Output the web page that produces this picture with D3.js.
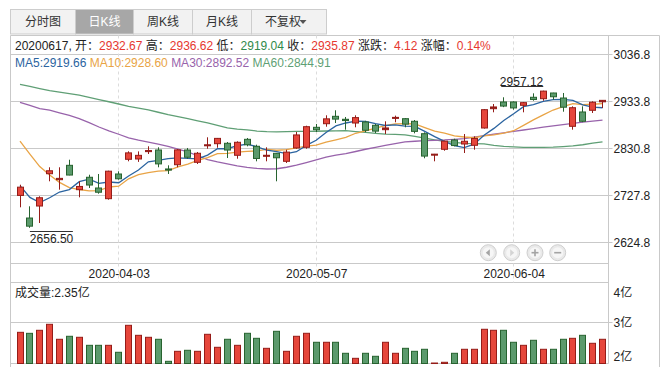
<!DOCTYPE html>
<html><head><meta charset="utf-8">
<script src="https://cdn.jsdelivr.net/npm/d3@7"></script>
<style>
html,body{margin:0;padding:0;background:#fff;}
svg{display:block;}
text{font-family:"Liberation Sans","Noto Sans CJK SC",Arial,sans-serif;font-size:12px;}
</style></head><body>
<svg id="chart" width="667" height="377"></svg>
<script>
// ---------------- DATA ----------------
const tabs = ["分时图", "日K线", "周K线", "月K线", "不复权"];
const dates = ["2020-03-20","2020-03-23","2020-03-24","2020-03-25","2020-03-26","2020-03-27","2020-03-30","2020-03-31","2020-04-01","2020-04-02",
"2020-04-03","2020-04-07","2020-04-08","2020-04-09","2020-04-10","2020-04-13","2020-04-14","2020-04-15","2020-04-16","2020-04-17",
"2020-04-20","2020-04-21","2020-04-22","2020-04-23","2020-04-24","2020-04-27","2020-04-28","2020-04-29","2020-04-30","2020-05-06",
"2020-05-07","2020-05-08","2020-05-11","2020-05-12","2020-05-13","2020-05-14","2020-05-15","2020-05-18","2020-05-19","2020-05-20",
"2020-05-21","2020-05-22","2020-05-25","2020-05-26","2020-05-27","2020-05-28","2020-05-29","2020-06-01","2020-06-02","2020-06-03",
"2020-06-04","2020-06-05","2020-06-08","2020-06-09","2020-06-10","2020-06-11","2020-06-12","2020-06-15","2020-06-16","2020-06-17"];
const opens = [2727.5,2678.0,2704.3,2775.1,2762.0,2793.5,2740.1,2767.3,2743.8,2720.4,
2774.5,2806.7,2807.4,2823.5,2827.1,2785.5,2794.8,2827.1,2800.1,2836.5,
2840.9,2841.8,2815.5,2850.5,2835.2,2813.3,2819.8,2802.3,2831.5,2833.0,
2876.8,2884.7,2900.9,2894.4,2886.2,2888.4,2881.2,2871.6,2897.2,2895.7,
2890.0,2862.8,2816.1,2828.6,2849.0,2840.2,2837.4,2875.3,2917.6,2932.3,
2932.3,2925.0,2942.6,2939.5,2952.0,2941.0,2879.0,2910.4,2914.1,2932.67];
const highs = [2751.0,2703.7,2725.6,2789.2,2789.2,2805.8,2758.5,2772.9,2774.5,2781.7,
2780.4,2824.2,2824.0,2835.2,2833.0,2793.5,2829.3,2831.5,2822.7,2854.9,
2853.4,2844.6,2846.1,2853.4,2838.7,2833.0,2820.5,2827.7,2866.5,2880.3,
2884.1,2903.1,2914.1,2899.4,2903.1,2891.0,2884.1,2890.0,2902.4,2897.2,
2892.8,2865.8,2818.5,2847.5,2851.8,2862.1,2857.1,2916.9,2927.9,2942.6,
2933.8,2932.3,2951.3,2957.12,2952.5,2952.0,2922.8,2922.8,2933.8,2936.62];
const lows = [2701.5,2656.50,2667.1,2758.5,2740.1,2771.6,2723.4,2743.8,2731.3,2718.2,
2762.0,2802.3,2801.0,2818.3,2789.2,2774.5,2789.2,2808.0,2796.4,2829.9,
2832.0,2809.5,2808.0,2835.2,2802.3,2802.3,2758.5,2798.6,2829.9,2829.9,
2866.5,2878.1,2886.2,2871.6,2876.8,2866.0,2864.3,2862.1,2887.8,2876.8,
2863.6,2808.9,2802.3,2825.5,2835.2,2820.5,2827.7,2874.0,2909.7,2921.0,
2915.4,2909.7,2935.1,2935.1,2937.3,2911.0,2871.6,2888.0,2908.2,2919.04];
const closes = [2745.62,2660.17,2722.44,2781.59,2764.91,2772.20,2747.21,2750.30,2734.52,2780.64,
2763.99,2820.76,2815.37,2825.90,2796.63,2783.05,2827.28,2811.17,2819.94,2838.49,
2852.55,2827.01,2843.98,2838.50,2808.53,2815.49,2810.02,2822.44,2860.08,2878.14,
2871.52,2895.34,2894.80,2891.56,2898.05,2870.34,2868.46,2875.42,2898.58,2883.74,
2867.92,2813.77,2817.97,2846.55,2836.80,2846.22,2852.35,2915.43,2921.40,2923.37,
2919.25,2930.80,2937.77,2956.11,2943.75,2920.90,2919.74,2890.03,2931.75,2935.87];
// volume, 亿
const volumes = [2.765,2.740,2.815,2.963,2.593,2.667,2.642,2.444,2.444,2.444,
2.272,2.938,2.691,2.642,2.593,2.049,2.296,2.321,2.296,2.716,
2.395,2.593,2.444,2.741,2.617,2.370,2.790,2.296,2.667,2.741,
2.519,2.519,2.519,2.247,2.123,2.247,2.173,2.519,2.247,2.370,
2.296,2.346,2.007,2.025,2.247,2.346,2.346,2.840,2.815,2.815,
2.519,2.444,2.568,2.346,2.346,2.593,2.617,2.691,2.494,2.593];
const ma5 = [2749.08,2723.26,2711.82,2722.39,2734.95,2740.26,2757.67,2763.24,2753.83,2756.97,
2755.33,2770.04,2783.06,2801.33,2804.53,2808.34,2809.65,2808.81,2807.61,2815.99,
2829.89,2829.83,2836.39,2840.11,2834.11,2826.70,2823.30,2819.00,2823.31,2837.23,
2848.44,2865.50,2879.98,2886.27,2890.25,2890.02,2884.64,2880.77,2882.17,2879.31,
2878.82,2867.89,2856.40,2845.99,2836.60,2832.26,2839.98,2859.47,2874.44,2891.75,
2906.36,2922.05,2926.52,2933.46,2937.54,2937.87,2935.65,2926.11,2921.23,2919.66];
const ma10 = [2846.49,2818.18,2790.75,2772.05,2756.19,2744.67,2740.47,2737.53,2738.11,2745.96,
2747.80,2763.86,2773.15,2777.58,2780.75,2781.84,2789.84,2795.93,2804.47,2810.26,
2819.11,2819.74,2822.60,2823.86,2825.05,2828.29,2826.57,2827.70,2831.71,2835.67,
2837.57,2844.40,2849.49,2854.79,2863.74,2869.23,2875.07,2880.37,2884.22,2884.78,
2884.42,2876.26,2868.58,2864.08,2857.96,2855.54,2853.93,2857.93,2860.22,2864.18,
2869.31,2881.01,2892.99,2903.95,2914.65,2922.11,2928.85,2926.31,2927.35,2928.60];
const ma30 = [2931.6,2924.7,2917.8,2914.3,2908.5,2902.7,2896.0,2887.0,2877.5,2868.8,
2861.6,2853.9,2848.6,2844.4,2839.8,2835.1,2829.0,2822.8,2814.5,2806.0,
2801.0,2796.7,2792.5,2788.8,2786.6,2785.4,2786.0,2789.3,2793.7,2799.6,
2805.5,2811.4,2816.0,2819.0,2823.8,2828.7,2832.9,2837.0,2841.0,2844.7,
2846.2,2847.6,2848.3,2849.1,2850.4,2851.9,2855.3,2858.6,2861.7,2864.8,
2867.8,2870.9,2874.1,2877.2,2880.0,2882.7,2885.4,2888.0,2890.3,2892.52];
const ma60 = [2971.1,2966.4,2961.8,2957.2,2954.0,2950.7,2947.1,2942.3,2937.6,2932.8,
2927.9,2922.7,2919.0,2915.2,2909.8,2904.4,2900.0,2895.8,2891.1,2886.4,
2881.0,2875.6,2872.8,2871.3,2868.6,2867.2,2866.8,2867.4,2868.1,2868.1,
2868.2,2868.7,2869.1,2869.4,2867.5,2865.6,2863.7,2862.0,2861.3,2860.2,
2856.7,2853.1,2849.5,2845.9,2843.9,2841.8,2841.0,2840.3,2837.2,2835.0,
2833.9,2833.0,2833.0,2833.0,2833.4,2834.5,2836.0,2838.6,2842.0,2844.91];
const priceTicks = [3036.8, 2933.8, 2830.8, 2727.8, 2624.8];
const dateTicks = ["2020-04-03", "2020-05-07", "2020-06-04"];
const volTicks = [4, 3, 2];
const volumeTitle = "成交量:2.35亿";
const maNames = ["MA5", "MA10", "MA30", "MA60"];
const maSeries = [ma5, ma10, ma30, ma60];

// ---------------- STYLE / LAYOUT ----------------
const COL = {red:"#e6463b", redDark:"#951c18", green:"#5b9a6c", greenDark:"#27632f",
  grid:"#c9c9c9", text:"#222", infoRed:"#e6382f", infoGreen:"#2f8a4a"};
const maColors = ["#2b64a0", "#e9a446", "#9863ab", "#5f9f75"];
const L = 10.5, R = 608.5, OR = 659.5, TOP = 35.5;
const PRICE_BOTTOM = 263.5, DATE_BOTTOM = 282.5, VOL_BOTTOM = 363.5, FRAME_BOTTOM = 367;

const svg = d3.select("#chart");
const x = d3.scalePoint().domain(dates).range([20, 602.5]);
const y = d3.scaleLinear().domain([2624.8, 3036.8]).range([242.3, 54.3]);
const yv = d3.scaleLinear().domain([2, 4]).range([363.3, 282.3]);
const BW = 7;
const snap = v => Math.floor(v) + 0.5;

// ---------- tabs ----------
const tabEdges = [10.5, 75.5, 133.5, 192.5, 251.5, 326.5];
const tabG = svg.append("g");
tabs.forEach((t, i) => {
  const x0 = tabEdges[i], x1 = tabEdges[i + 1];
  const sel = i === 1;
  tabG.append("rect").attr("x", x0).attr("y", 9.5).attr("width", x1 - x0).attr("height", 24.5)
    .attr("fill", sel ? "#a7a7a7" : "#f2f2f2").attr("stroke", "#cdcdcd");
  if (i === tabs.length - 1) {
    tabG.append("text").attr("x", (x0 + x1) / 2 - 6).attr("y", 22).attr("dy", "0.35em")
      .attr("text-anchor", "middle").attr("fill", "#333").text(t);
    tabG.append("path").attr("d", `M${x1 - 27},20 l7,0 l-3.5,4 z`).attr("fill", "#555");
  } else {
    tabG.append("text").attr("x", (x0 + x1) / 2).attr("y", 22).attr("dy", "0.35em")
      .attr("text-anchor", "middle").attr("fill", sel ? "#fff" : "#333").text(t);
  }
});

// ---------- frame & grid ----------
const g = svg.append("g");
const hline = (yy, x0, x1) => g.append("line").attr("x1", x0).attr("x2", x1).attr("y1", yy).attr("y2", yy)
  .attr("stroke", COL.grid).attr("stroke-width", 1);
const vline = (xx, y0, y1) => g.append("line").attr("x1", xx).attr("x2", xx).attr("y1", y0).attr("y2", y1)
  .attr("stroke", COL.grid).attr("stroke-width", 1);
hline(TOP, L, OR);
vline(L, TOP, FRAME_BOTTOM);
vline(OR, TOP, FRAME_BOTTOM);
vline(R, TOP, VOL_BOTTOM);
priceTicks.forEach(t => hline(snap(y(t)), L, R + 4));
hline(PRICE_BOTTOM, L, R);
hline(DATE_BOTTOM, L, R);
hline(snap(yv(3)), L, R + 4);
hline(VOL_BOTTOM, L, R);

// dashed date lines
g.selectAll("line.dash").data(dateTicks).join("line").attr("class", "dash")
  .attr("x1", d => snap(x(d))).attr("x2", d => snap(x(d)))
  .attr("y1", TOP).attr("y2", DATE_BOTTOM)
  .attr("stroke", "#dcdcdc").attr("stroke-dasharray", "3,3");

// ---------- axes ----------
const yAxis = d3.axisRight(y).tickValues(priceTicks).tickSize(0).tickPadding(5).tickFormat(d3.format(".1f"));
const ya = svg.append("g").attr("transform", `translate(${R},0)`).call(yAxis);
ya.select(".domain").remove();
ya.selectAll("text").attr("fill", COL.text).style("font-size", "12px")
  .style("font-family", '"Liberation Sans","Noto Sans CJK SC",sans-serif');

const xAxis = d3.axisBottom(x).tickValues(dateTicks).tickSize(0).tickPadding(5.5);
const xa = svg.append("g").attr("transform", `translate(0,${PRICE_BOTTOM})`).call(xAxis);
xa.select(".domain").remove();
xa.selectAll("text").attr("fill", COL.text).style("font-size", "12px")
  .style("font-family", '"Liberation Sans","Noto Sans CJK SC",sans-serif');

const vAxis = d3.axisRight(yv).tickValues(volTicks).tickSize(0).tickPadding(5).tickFormat(d => d + "亿");
const va = svg.append("g").attr("transform", `translate(${R},0)`).call(vAxis);
va.select(".domain").remove();
va.selectAll("text").attr("fill", COL.text).style("font-size", "12px")
  .style("font-family", '"Liberation Sans","Noto Sans CJK SC",sans-serif')
  .attr("dy", d => d === 4 ? "1.2em" : d === 2 ? "-0.2em" : "0.32em");

// ---------- info line ----------
const n = dates.length - 1;
const prev = closes[n - 1];
const chg = closes[n] - prev;
const f2 = d3.format(".2f");
const cmp = v => v >= prev ? COL.infoRed : COL.infoGreen;
const info = svg.append("text").attr("x", 15).attr("y", 50);
const seg = [
  [dates[n].replace(/-/g, "") + ", 开：", COL.text], [f2(opens[n]), cmp(opens[n])],
  [" 高：", COL.text], [f2(highs[n]), cmp(highs[n])],
  [" 低：", COL.text], [f2(lows[n]), cmp(lows[n])],
  [" 收：", COL.text], [f2(closes[n]), cmp(closes[n])],
  [" 涨跌：", COL.text], [f2(chg), chg >= 0 ? COL.infoRed : COL.infoGreen],
  [" 涨幅：", COL.text], [f2(chg / prev * 100) + "%", chg >= 0 ? COL.infoRed : COL.infoGreen]
];
seg.forEach(s => info.append("tspan").attr("fill", s[1]).text(s[0]));

// MA legend
const leg = svg.append("text").attr("x", 15).attr("y", 67);
maNames.forEach((nm, i) => leg.append("tspan").attr("fill", maColors[i])
  .text(nm + ":" + f2(maSeries[i][n]) + (i < 3 ? " " : "")));

// ---------- MA lines ----------
const line = d3.line().x((d, i) => x(dates[i])).y(d => y(d));
svg.append("g").selectAll("path").data(maSeries.slice().reverse()).join("path")
  .attr("d", line).attr("fill", "none")
  .attr("stroke", (d, i) => maColors[3 - i]).attr("stroke-width", 1.3);

// ---------- candles ----------
const candles = dates.map((d, i) => ({d, o: opens[i], h: highs[i], l: lows[i], c: closes[i], v: volumes[i], up: closes[i] >= opens[i]}));
const cg = svg.append("g").selectAll("g").data(candles).join("g");
cg.append("line")
  .attr("x1", d => snap(x(d.d))).attr("x2", d => snap(x(d.d)))
  .attr("y1", d => y(d.h)).attr("y2", d => y(d.l))
  .attr("stroke", d => d.up ? COL.redDark : COL.greenDark).attr("stroke-width", 1);
cg.append("rect")
  .attr("x", d => Math.round(x(d.d) - BW / 2) + 0.5)
  .attr("y", d => y(Math.max(d.o, d.c)))
  .attr("width", BW - 1)
  .attr("height", d => Math.max(1, Math.abs(y(d.o) - y(d.c))))
  .attr("fill", d => Math.abs(y(d.o) - y(d.c)) < 2.2 ? (d.up ? COL.redDark : COL.greenDark) : (d.up ? COL.red : COL.green))
  .attr("stroke", d => d.up ? COL.redDark : COL.greenDark).attr("stroke-width", 1);

// ---------- volume bars ----------
svg.append("g").selectAll("rect").data(candles).join("rect")
  .attr("x", d => Math.round(x(d.d) - BW / 2) + 0.5)
  .attr("y", d => yv(d.v))
  .attr("width", BW - 1)
  .attr("height", d => Math.max(0.5, VOL_BOTTOM - yv(d.v)))
  .attr("fill", d => d.up ? COL.red : COL.green)
  .attr("stroke", d => d.up ? COL.redDark : COL.greenDark).attr("stroke-width", 1);

svg.append("text").attr("x", 15).attr("y", 297).attr("fill", COL.text).text(volumeTitle);

// ---------- max / min markers ----------
const iMax = d3.maxIndex(highs), iMin = d3.minIndex(lows);
const yMax = y(highs[iMax]) - 4, xMax = x(dates[iMax]);
svg.append("line").attr("x1", xMax - 42).attr("x2", xMax).attr("y1", snap(yMax)).attr("y2", snap(yMax)).attr("stroke", "#333");
svg.append("text").attr("x", xMax).attr("y", yMax - 1).attr("text-anchor", "end").attr("fill", COL.text).text(f2(highs[iMax]));
const yMin = y(lows[iMin]) + 3.3, xMin = x(dates[iMin]);
svg.append("line").attr("x1", xMin).attr("x2", xMin + 43).attr("y1", snap(yMin)).attr("y2", snap(yMin)).attr("stroke", "#333");
svg.append("text").attr("x", xMin).attr("y", yMin + 12).attr("fill", COL.text).text(f2(lows[iMin]));

// ---------- navigation buttons ----------
const nav = svg.append("g");
const bx = [488.3, 511.7, 535, 557.7], by = 252.7;
bx.forEach((cx, i) => {
  nav.append("circle").attr("cx", cx).attr("cy", by).attr("r", 8).attr("fill", "#e9e9e9").attr("stroke", "#cfcfcf");
  nav.append("circle").attr("cx", cx).attr("cy", by).attr("r", 5.5).attr("fill", "#f6f6f6");
  const ic = i === 1 ? "#d4d4d4" : "#a4a4a4";
  if (i === 0) nav.append("path").attr("d", `M${cx - 2.5},${by} l4,-3.5 l0,7 z`).attr("fill", ic);
  if (i === 1) nav.append("path").attr("d", `M${cx + 2.5},${by} l-4,-3.5 l0,7 z`).attr("fill", ic);
  if (i >= 2) nav.append("path").attr("d", `M${cx - 3.5},${by} h7`).attr("stroke", ic).attr("stroke-width", 1.6);
  if (i === 2) nav.append("path").attr("d", `M${cx},${by - 3.5} v7`).attr("stroke", ic).attr("stroke-width", 1.6);
});
</script>
</body></html>
